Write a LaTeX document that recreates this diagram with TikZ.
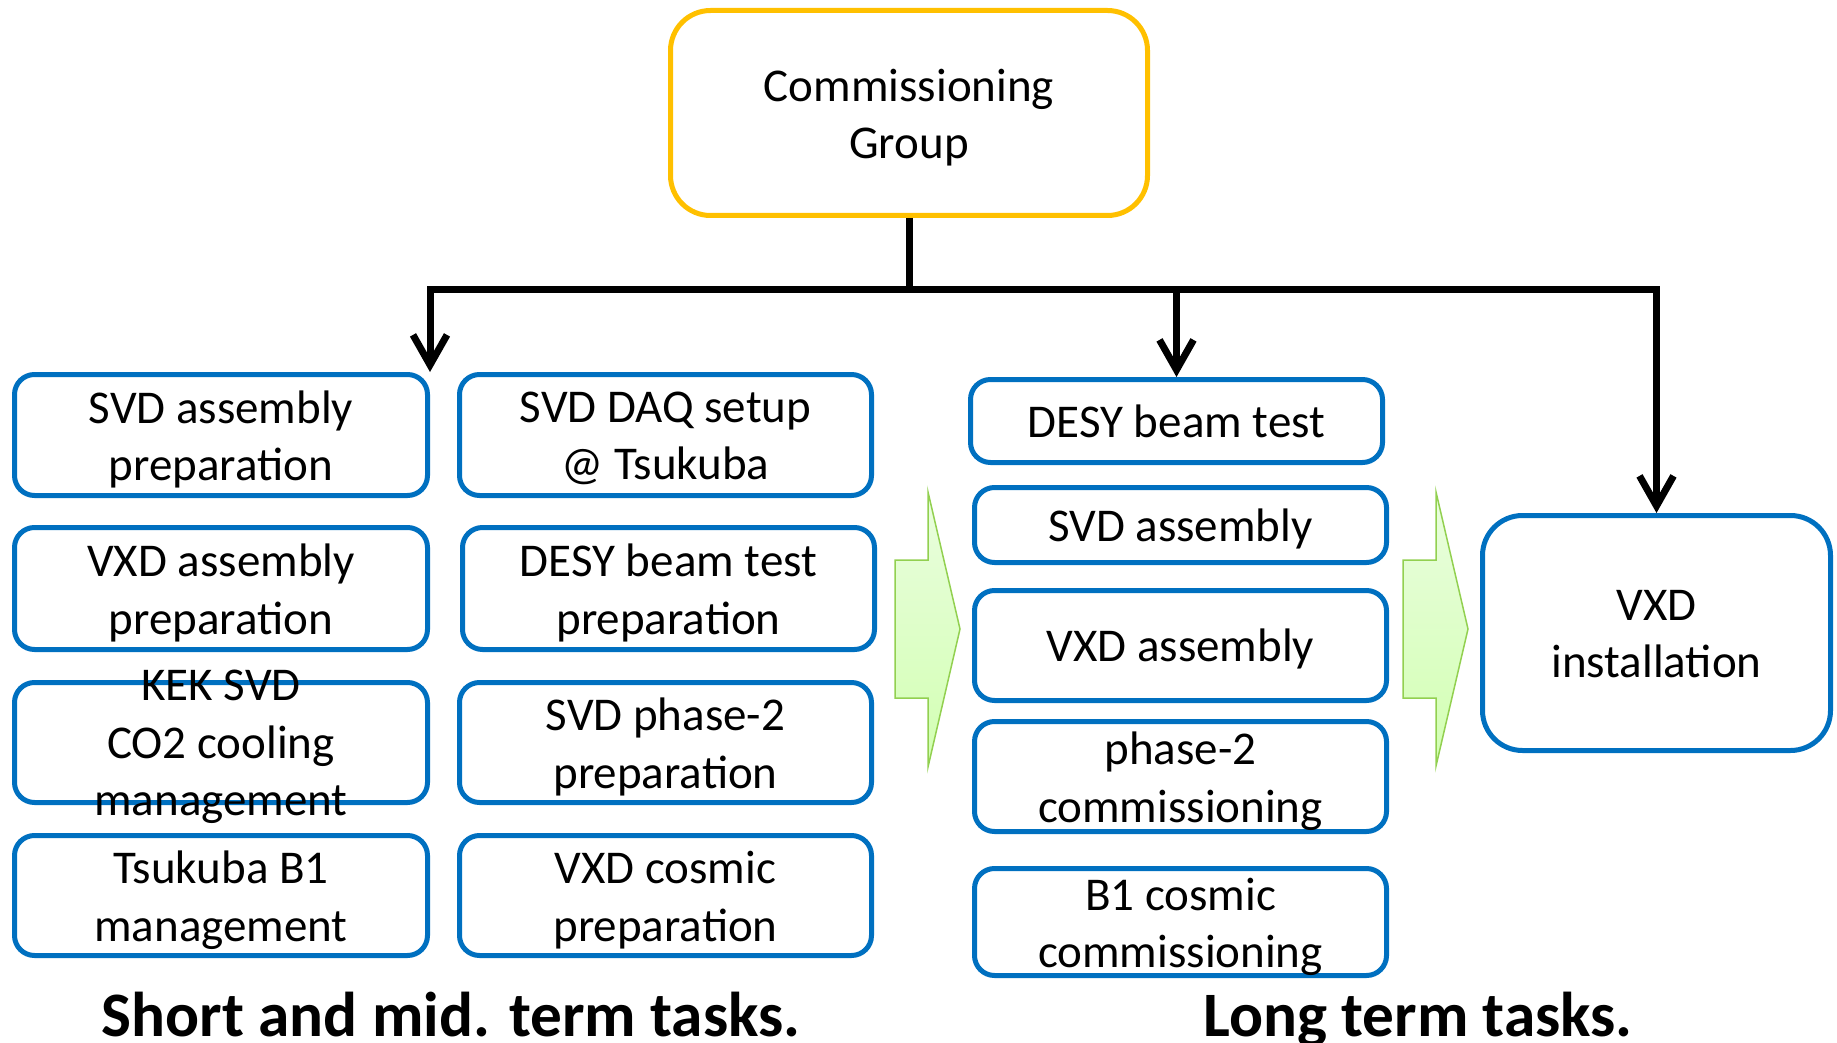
\documentclass[tikz,border=0pt]{standalone}
\usepackage{fontspec}
\setmainfont{Carlito}
\usetikzlibrary{arrows.meta}
\definecolor{boxblue}{HTML}{0070C0}
\definecolor{gold}{HTML}{FFC000}
\definecolor{arrgreen}{HTML}{92D050}
\definecolor{greentop}{HTML}{EAFEDF}
\definecolor{greenbot}{HTML}{D2FFB2}
\newcommand{\pstrut}{\rule[-12.65pt]{0pt}{57.5pt}}
\begin{document}
\begin{tikzpicture}[x=1pt,y=-1pt,
  taskbox/.style={draw=boxblue, line width=5pt, rounded corners=20pt, inner sep=0pt, fill=white},
  headbox/.style={draw=gold, line width=5pt, rounded corners=40pt, inner sep=0pt, fill=white},
  bigbox/.style={draw=boxblue, line width=5pt, rounded corners=40pt, inner sep=0pt, fill=white},
  tasktext/.style={align=center, inner sep=0pt, font=\fontsize{47}{57.5}\selectfont,
    execute at begin node=\pstrut, execute at end node=\pstrut},
  multitext/.style={tasktext, yshift=-7pt},
  caption/.style={anchor=base, inner sep=0pt, font=\fontsize{63.3}{76}\selectfont\bfseries},
  link/.style={line width=7pt},
  linkarrow/.style={line width=7pt, -{Straight Barb[length=30pt,width=34pt]}},
  bigarrow/.style={draw=arrgreen, line width=1.5pt, top color=greentop, bottom color=greenbot, line join=miter}
]
\useasboundingbox (0,0) rectangle (1837,1043);

% head
\node[headbox, minimum width=477pt, minimum height=205pt] (head) at (909,113) {};
\node[multitext] (headT) at (head.center) {Commissioning\\Group};

% left column
\node[taskbox, minimum width=413pt, minimum height=121pt] (L1) at (221,435) {};
\node[taskbox, minimum width=413pt, minimum height=122pt] (L2) at (221,588.5) {};
\node[taskbox, minimum width=413pt, minimum height=120pt] (L3) at (221,742.5) {};
\node[taskbox, minimum width=413pt, minimum height=120pt] (L4) at (221,895.5) {};
\node[multitext] (L1T) at (L1.center) {SVD assembly\\preparation};
\node[multitext] (L2T) at (L2.center) {VXD assembly\\preparation};
\node[multitext] (L3T) at (L3.center) {KEK SVD\\CO2 cooling\\management};
\node[multitext] (L4T) at (L4.center) {Tsukuba B1\\management};

% middle column
\node[taskbox, minimum width=412pt, minimum height=121pt] (M1) at (665.5,435) {};
\node[taskbox, minimum width=412pt, minimum height=122pt] (M2) at (668.5,588.5) {};
\node[taskbox, minimum width=412pt, minimum height=120pt] (M3) at (665.5,742.5) {};
\node[taskbox, minimum width=412pt, minimum height=120pt] (M4) at (665.5,895.5) {};
\node[multitext] (M1T) at (M1.center) {SVD DAQ setup\\@ Tsukuba};
\node[multitext] (M2T) at (M2.center) {DESY beam test\\preparation};
\node[multitext] (M3T) at (M3.center) {SVD phase-2\\preparation};
\node[multitext] (M4T) at (M4.center) {VXD cosmic\\preparation};

% right column
\node[taskbox, minimum width=412pt, minimum height=83pt] (R1) at (1176.5,421) {};
\node[taskbox, minimum width=412pt, minimum height=75pt] (R2) at (1180.5,525) {};
\node[taskbox, minimum width=412pt, minimum height=110pt] (R3) at (1180.5,645.5) {};
\node[taskbox, minimum width=412pt, minimum height=110pt] (R4) at (1180.5,776.5) {};
\node[taskbox, minimum width=412pt, minimum height=107pt] (R5) at (1180.5,922) {};
\node[tasktext] (R1T) at (R1.center) {DESY beam test};
\node[tasktext] (R2T) at (R2.center) {SVD assembly};
\node[tasktext] (R3T) at (R3.center) {VXD assembly};
\node[multitext] (R4T) at (R4.center) {phase-2\\commissioning};
\node[multitext] (R5T) at (R5.center) {B1 cosmic\\commissioning};

% installation
\node[bigbox, minimum width=348pt, minimum height=235pt] (inst) at (1656.5,633) {};
\node[multitext] (instT) at (inst.center) {VXD\\installation};

% green block arrows
\path[bigarrow] (895,560) -- (928,560) -- (928,492) -- (960,629) -- (928,767) -- (928,698) -- (895,698) -- cycle;
\path[bigarrow] (1403,560) -- (1436,560) -- (1436,492) -- (1468,629) -- (1436,766) -- (1436,698) -- (1403,698) -- cycle;

% connectors
\coordinate (jn) at (909,289);
\draw[link] (head.south) -- (jn);
\draw[linkarrow] (jn) -| (L1.north east);
\draw[linkarrow] (jn) -| (R1.north);
\draw[linkarrow] (jn) -| (inst.north);

% captions
\node[caption] (capA) at (451,1036) {Short and mid. term tasks.};
\node[caption] (capB) at (1418,1036) {Long term tasks.};
\end{tikzpicture}
\end{document}
